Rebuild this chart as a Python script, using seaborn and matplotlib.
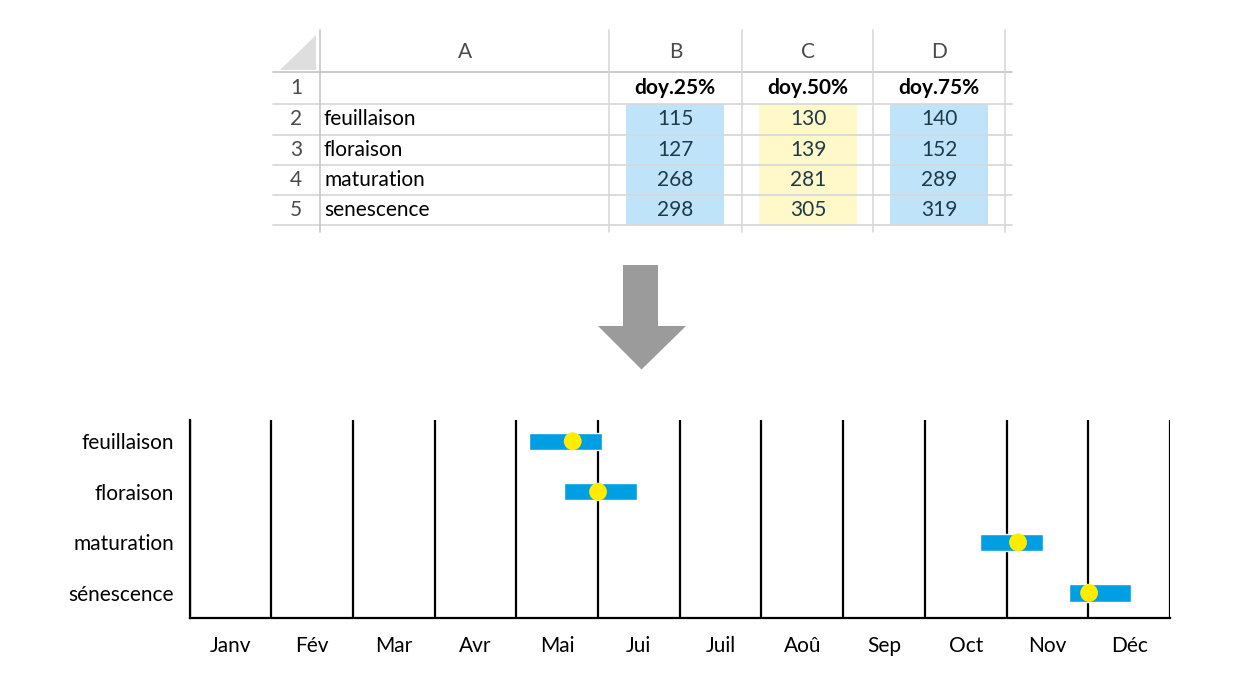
import numpy as np
import pandas as pd
import matplotlib.pyplot as plt
import seaborn as sns
from matplotlib.patches import Rectangle, Polygon

# --- Table data (spreadsheet on top) ---
col_letters = ["A", "B", "C", "D"]
table_header = ["doy.25%", "doy.50%", "doy.75%"]
table_stages = ["feuillaison", "floraison", "maturation", "senescence"]
doy_25 = [115, 127, 268, 298]
doy_50 = [130, 139, 281, 305]
doy_75 = [140, 152, 289, 319]

# --- Chart data (positions as drawn, in months from 1 Jan) ---
chart_stages = ["feuillaison", "floraison", "maturation", "sénescence"]
months = ["Janv", "Fév", "Mar", "Avr", "Mai", "Jui",
          "Juil", "Aoû", "Sep", "Oct", "Nov", "Déc"]
start_m = [4.15, 4.58, 9.68, 10.76]
mid_m = [4.69, 5.00, 10.14, 11.01]
end_m = [5.05, 5.48, 10.44, 11.52]

df = pd.DataFrame({"stage": chart_stages, "start": start_m,
                   "mid": mid_m, "end": end_m})
df["ypos"] = np.arange(len(df))

sns.set_theme(style="white")
plt.rcParams["font.family"] = ["Lato", "DejaVu Sans"]
plt.rcParams["text.color"] = "black"
plt.rcParams["xtick.color"] = "black"
plt.rcParams["ytick.color"] = "black"

fig = plt.figure(figsize=(12.4, 6.86), dpi=100)

# --- overlay in pixel coords for the table and the arrow ---
ov = fig.add_axes([0, 0, 1, 1])
ov.set_xlim(0, 1240)
ov.set_ylim(686, 0)
ov.axis("off")

col_edges = [273, 320, 609, 742, 873, 1005]
row_edges = [30, 71.5, 104, 134.5, 165, 195, 224.5, 232]
grid_c = "#d9d9d9"
fs_tab = 15

# corner cell triangle
ov.add_patch(Polygon([(280, 70), (316, 70), (316, 35)], closed=True,
                     facecolor="#dedede", edgecolor="none"))
# coloured value cells
fills = ["#bfe3f8", "#fff8c8", "#bfe3f8"]
for j, fc in enumerate(fills):
    x0 = col_edges[j + 2] + 17
    ov.add_patch(Rectangle((x0, row_edges[2]), 98, row_edges[6] - row_edges[2],
                           facecolor=fc, edgecolor="none", zorder=1))
# grid lines
for y in row_edges[1:-1]:
    c = "#c8c8c8" if y == row_edges[1] else grid_c
    ov.plot([273, 1012], [y, y], color=c, lw=1.3, zorder=2)
for x in col_edges[1:]:
    c = "#c8c8c8" if x == col_edges[1] else grid_c
    ov.plot([x, x], [row_edges[0], row_edges[-1]], color=c, lw=1.2, zorder=2)

# column letters
for j, letter in enumerate(col_letters):
    xc = (col_edges[j + 1] + col_edges[j + 2]) / 2
    ov.text(xc, 52, letter, ha="center", va="center", fontsize=fs_tab,
            color="#4a4a4a")
# row numbers
for i in range(5):
    yc = (row_edges[i + 1] + row_edges[i + 2]) / 2
    ov.text(296, yc, str(i + 1), ha="center", va="center", fontsize=fs_tab,
            color="#4a4a4a")
# header row
for j, h in enumerate(table_header):
    xc = col_edges[j + 2] + 17 + 49
    yc = (row_edges[1] + row_edges[2]) / 2
    ov.text(xc, yc, h, ha="center", va="center", fontsize=fs_tab,
            fontweight="bold", color="black")
# stages + values
for i, stage in enumerate(table_stages):
    yc = (row_edges[i + 2] + row_edges[i + 3]) / 2
    ov.text(324, yc, stage, ha="left", va="center", fontsize=fs_tab,
            color="black")
    for j, vals in enumerate([doy_25, doy_50, doy_75]):
        xc = col_edges[j + 2] + 17 + 49
        ov.text(xc, yc, str(vals[i]), ha="center", va="center",
                fontsize=fs_tab, color="#1f3a48")

# arrow
ov.add_patch(Polygon([(623, 265), (658, 265), (658, 326), (686, 326),
                      (641.5, 369.5), (598, 326), (623, 326)], closed=True,
                     facecolor="#9b9b9b", edgecolor="none"))

# --- Phenology chart ---
ax = fig.add_axes([189.5 / 1240, 1 - 617.7 / 686,
                   (1170 - 189.5) / 1240, (617.7 - 420) / 686])
ax.barh(df["ypos"], df["end"] - df["start"], left=df["start"], height=0.34,
        color="#009fe3", zorder=3)
sns.scatterplot(data=df, x="mid", y="ypos", s=165, color="#ffec00",
                edgecolor="none", zorder=4, ax=ax, legend=False)

ax.set_xlim(0, 12)
ax.set_ylim(3.49, -0.42)
ax.set_xticks(range(13))
ax.set_xticklabels([])
ax.set_xticks(np.arange(12) + 0.5, minor=True)
ax.set_xticklabels(months, minor=True, fontsize=15)
ax.tick_params(axis="x", which="both", length=0)
ax.tick_params(axis="x", which="minor", pad=13)
ax.set_yticks(df["ypos"])
ax.set_yticklabels(df["stage"], fontsize=15)
ax.tick_params(axis="y", length=0, pad=11)
ax.grid(axis="x", which="major", color="black", lw=1.6)
ax.grid(axis="y", visible=False)
ax.set_axisbelow(True)
ax.set_xlabel("")
ax.set_ylabel("")
for side in ["top", "right"]:
    ax.spines[side].set_visible(False)
for side in ["left", "bottom"]:
    ax.spines[side].set_color("black")
    ax.spines[side].set_linewidth(1.6)
ax.set_facecolor("none")

fig.savefig("out.png", dpi=100)
